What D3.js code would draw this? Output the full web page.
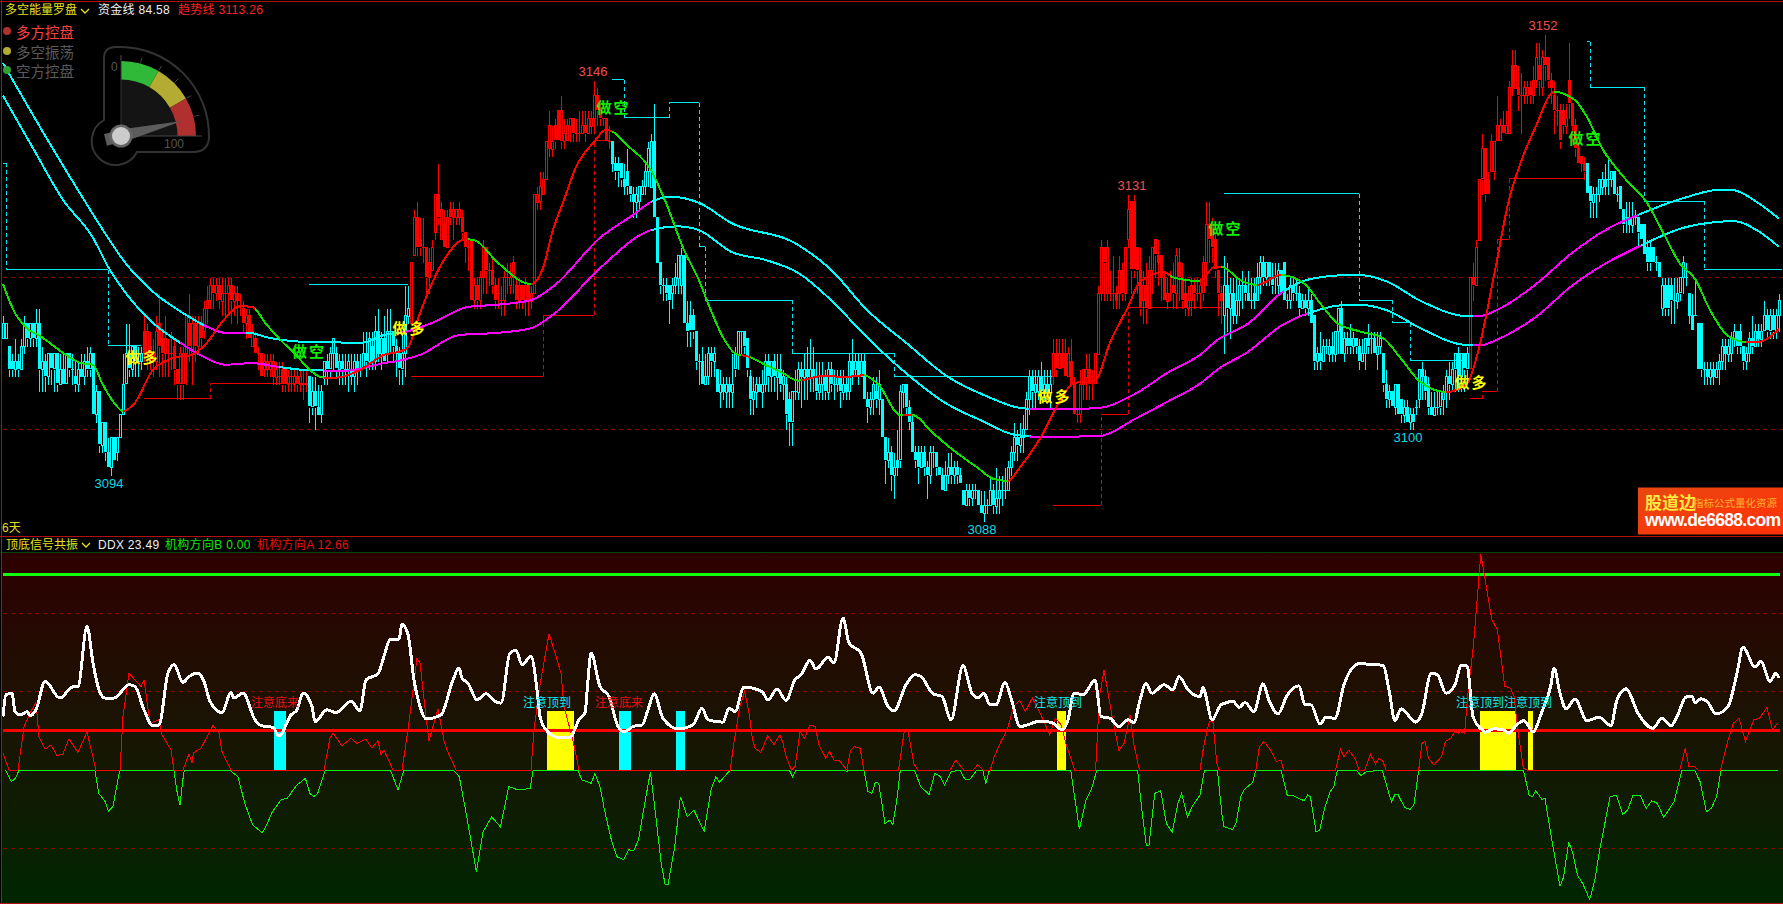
<!DOCTYPE html>
<html><head><meta charset="utf-8">
<script src="https://cdn.jsdelivr.net/npm/d3@7"></script>
<style>html,body{margin:0;padding:0;background:#000;overflow:hidden}svg{display:block}
text{font-family:"Liberation Sans","Noto Sans CJK SC",sans-serif}</style>
</head><body><div id="chart"></div>
<script>
// All price values are points above this base; each bar is [open, close, high, low].
const priceBase = 3000;
const cyanBars1 = [[112,114,115,112],[112,114,114,112],[111,108,111,107],[109,108,110,107],[108,109,112,107],[109,108,110,107],[108,111,112,108],[111,114,115,110],[114,112,114,111],[112,114,114,111],[114,112,114,111],[112,114,116,111],[114,108,116,105],[108,109,111,105],[109,107,110,105],[107,110,110,106],[110,108,110,106],[108,110,110,105],[110,106,110,105],[106,108,110,106],[108,106,110,106],[106,110,110,106],[110,108,110,107],[108,108,110,106],[107,106,109,105],[106,108,109,105],[108,107,110,107],[107,109,110,106],[109,108,111,107],[108,110,111,107],[110,102,110,102],[102,105,106,101],[105,98,105,97],[98,101,101,97],[101,97,101,96],[97,95,99,95],[95,99,99,94],[99,96,99,96],[97,99,99,96],[99,102,102,99],[102,106,110,102],[106,110,114,106],[110,108,114,107],[108,111,111,107],[111,109,111,107],[109,109,111,107],[109,110,111,108]];
const redBars1 = [[113,110,115,109],[110,113,114,108],[111,110,113,108],[110,109,112,107],[109,113,115,108],[114,111,118,107],[112,110,113,107],[110,112,115,107],[110,110,112,107],[110,110,113,108],[111,108,112,106],[108,106,108,104],[106,110,111,104],[106,110,111,104],[110,115,115,106],[114,111,118,109],[110,114,115,106],[114,111,115,109],[111,114,115,110],[114,112,115,111],[113,116,117,112],[116,117,119,114],[117,119,120,116],[119,118,120,116],[118,119,120,117],[119,117,120,116],[117,118,120,115],[118,118,120,115],[118,119,120,115],[119,117,120,114],[117,118,119,115],[118,117,119,114],[117,117,118,115],[116,114,117,113],[114,115,116,112],[115,112,116,112],[111,113,114,111],[112,110,113,110],[110,110,111,108],[110,107,110,107],[108,109,110,107],[108,109,110,107],[108,109,110,107],[107,109,110,106],[107,108,109,106],[107,107,109,106],[108,106,109,105],[108,106,108,105],[106,107,108,105],[107,107,108,105],[106,107,108,105],[107,106,108,105],[106,107,108,105],[106,106,108,104],[106,106,108,105]];
const cyanBars2 = [[107,103,107,101],[103,105,107,102],[105,103,107,100],[103,102,106,102],[102,105,106,101],[107,109,109,106],[109,108,110,106],[108,110,111,107],[110,112,112,108],[110,108,111,107],[108,109,110,106],[109,108,110,106],[108,108,110,106],[108,109,110,105],[108,107,110,106],[107,109,110,105],[109,108,110,106],[108,108,110,107],[108,110,113,108],[110,109,113,107],[109,112,113,108],[111,109,113,108],[109,113,115,108],[113,110,116,109],[110,112,113,108],[112,109,115,109],[110,113,116,109],[113,113,116,110],[113,111,113,109],[111,110,112,107],[110,108,111,106],[108,110,113,106],[110,115,119,107],[115,116,119,114]];
const redBars2 = [[114,122,122,114],[123,128,129,123],[128,124,130,123],[125,124,128,123],[124,124,128,122],[124,120,124,118],[120,122,124,118],[121,124,125,121],[126,131,131,125],[131,128,135,127],[125,129,130,125],[127,124,129,124],[124,128,129,124],[129,128,130,127],[128,129,130,125],[128,129,129,127],[128,129,130,127],[128,126,129,125],[126,124,126,122],[124,124,125,121],[125,117,125,117],[117,119,120,116],[119,117,120,116],[117,120,121,116],[120,124,125,118],[124,121,124,118],[121,121,122,119],[121,119,123,118],[119,117,120,116],[118,118,120,116],[117,117,119,115],[117,120,121,115],[120,120,122,118],[119,120,122,118],[120,122,123,118],[119,117,120,116],[117,119,120,116],[119,117,119,116],[117,119,120,115],[119,117,119,115],[117,118,119,116],[118,131,131,118],[130,131,132,129],[130,132,134,129],[131,133,134,131],[133,138,138,133],[137,140,142,136],[137,138,140,136],[140,138,141,137],[142,138,142,138],[138,142,144,137],[138,139,141,137],[138,140,141,138],[140,141,141,138],[141,139,141,138],[139,139,141,138],[139,139,142,138],[139,140,142,139],[140,139,142,138],[139,141,142,139],[140,141,142,139],[141,144,146,139],[144,142,145,140],[142,141,143,140],[141,141,141,140],[141,138,141,138],[138,138,140,137]];
const cyanBars3 = [[138,135,138,134],[135,134,136,133],[135,134,136,132],[135,133,135,132],[133,132,135,131],[134,132,137,131],[132,131,132,130],[131,130,132,128],[130,131,132,128],[130,132,132,129],[131,132,133,131],[132,134,135,131],[134,137,138,132],[132,138,139,132],[138,128,143,128],[128,122,128,122],[122,119,122,118],[119,119,120,117],[119,118,120,117],[119,117,119,114],[118,119,120,116],[119,120,122,118],[120,123,123,118],[119,123,124,118],[123,114,123,114],[114,113,117,111],[115,113,117,111],[115,113,116,112],[113,109,113,108],[109,109,110,106],[109,106,111,106],[106,107,110,106],[107,110,111,106],[110,109,111,107],[109,110,111,107],[108,105,108,105],[105,106,108,103],[106,105,107,104],[105,106,107,103],[106,105,107,103],[105,106,110,103],[108,110,111,107],[110,113,113,108],[113,113,113,110],[113,111,113,110],[112,108,112,107],[107,104,108,102],[104,105,107,102],[105,106,107,103],[106,105,107,105],[105,106,108,103],[106,109,110,105],[109,107,110,105],[107,109,109,105],[109,107,110,105],[107,108,110,104],[108,106,110,105],[106,107,108,104],[106,102,107,100],[104,101,105,98],[101,105,105,98],[105,105,108,104],[105,108,109,104],[108,107,109,103],[107,108,110,104],[108,107,111,104],[107,108,112,105],[108,107,111,105],[107,105,109,104],[105,106,109,104],[106,107,109,104],[107,105,108,104],[105,108,109,104],[108,106,109,105],[106,106,108,104],[106,107,108,105],[107,105,108,103],[105,106,108,104],[106,105,107,104],[105,109,110,104],[109,107,112,106],[108,109,110,107],[109,107,110,106],[107,109,110,107],[109,104,110,104],[104,103,105,101],[103,104,105,102],[104,106,107,102],[105,104,107,103],[104,106,108,102],[104,99,104,99],[99,96,99,93],[96,97,99,95],[97,94,98,92],[94,95,97,91],[96,95,100,94],[96,105,106,95],[105,106,106,103],[106,103,106,102],[103,101,104,100],[101,97,102,97],[97,96,98,95],[97,95,98,93],[95,97,98,95],[97,95,98,94],[95,94,96,91],[94,97,98,93],[97,97,98,95],[97,95,97,94],[95,94,95,94],[94,92,95,92],[92,94,96,92],[94,95,97,93],[95,94,97,93],[94,95,96,93],[95,94,96,93],[94,93,95,93],[92,90,92,90],[90,92,93,90],[92,91,93,90],[91,92,93,90],[92,92,93,91],[92,90,92,90],[90,89,92,89],[89,90,92,88],[90,90,91,89],[90,92,94,90],[92,90,93,89],[90,91,95,89],[91,92,94,89],[92,92,94,90],[92,92,95,91],[92,95,96,92],[95,97,98,94],[97,99,101,96],[99,98,100,96],[98,99,101,97],[99,100,102,97],[100,104,105,100],[104,107,108,102],[107,105,108,103],[105,106,108,103],[105,107,108,104],[107,105,109,104],[105,106,108,104],[106,105,108,104],[105,106,108,103]];
const redBars3 = [[107,110,112,106],[110,108,112,107],[108,110,112,108],[110,108,112,108],[110,107,112,107],[107,110,111,107],[109,106,112,106],[106,102,107,102],[102,102,103,101],[102,106,108,101],[106,108,108,104],[107,108,110,104],[108,106,110,104],[107,107,108,104],[106,110,110,106],[110,118,119,110],[118,124,125,117],[124,122,124,117],[118,124,125,117],[118,118,121,117],[118,118,123,116],[118,117,119,116],[118,121,123,116],[121,118,122,117],[118,124,124,117],[125,129,131,124],[130,121,130,118],[130,121,131,120],[124,121,124,118],[121,116,124,115],[117,119,121,114],[119,116,122,114],[116,121,123,116],[121,124,124,118],[125,123,125,120],[123,122,125,119],[123,120,123,117],[120,117,121,117],[117,118,120,116],[118,118,121,117],[119,118,122,116],[118,123,124,116],[122,120,124,117],[120,117,122,116],[118,116,120,115],[116,117,119,115],[117,119,120,115],[119,118,120,116],[118,118,120,117],[118,119,120,116],[118,122,123,117],[122,127,130,119],[127,125,130,122],[127,124,128,122],[125,121,126,120],[121,118,121,115],[118,117,119,114]];
const cyanBars4 = [[115,119,123,110],[119,116,122,113],[116,118,120,112],[118,115,120,114],[115,117,120,114],[117,119,120,115],[119,119,121,116],[119,118,120,117],[118,117,121,117],[117,117,120,116],[118,117,120,116],[117,120,122,117],[120,122,123,118],[122,120,123,119],[120,122,122,119],[122,120,122,119],[120,119,122,118],[120,120,122,118],[119,121,122,118],[121,118,121,118],[122,117,122,117],[117,117,118,116],[117,119,120,116],[119,118,120,117],[118,118,120,117],[118,116,119,115],[116,117,118,116],[117,116,118,115],[116,117,119,115],[117,114,118,114],[115,109,115,108],[109,110,111,108],[110,109,113,108],[109,111,112,109],[111,111,112,110],[110,111,112,109],[111,110,113,109],[110,113,113,109],[113,116,116,110],[116,110,117,110],[110,112,113,109],[112,111,113,110],[112,111,114,110],[111,112,113,110],[112,111,112,110],[111,109,112,108],[109,110,112,109],[110,112,112,108],[112,111,114,110],[112,112,113,110],[112,110,113,110],[110,111,113,108],[111,112,113,110],[110,106,110,105],[106,104,108,103],[104,105,106,103],[105,103,105,103],[103,106,106,102],[106,102,106,102],[104,102,104,101],[102,103,104,101],[103,101,104,101],[101,102,103,100],[102,101,103,100],[103,103,104,102],[104,108,108,103],[108,107,109,104],[107,105,108,104],[106,103,107,102],[103,102,105,102],[102,103,105,102],[103,103,105,102],[103,105,105,102],[104,105,106,102],[105,107,108,103],[107,106,109,104],[106,108,109,105],[108,110,110,105],[110,107,111,105],[107,110,110,105],[110,108,110,105],[108,110,111,106]];
const redBars4 = [[108,120,120,108],[120,119,122,117],[119,124,125,119],[125,133,133,125],[133,137,139,131],[137,131,137,130],[133,131,134,131],[134,138,139,134],[134,138,138,133],[138,140,144,138],[138,140,141,138],[140,139,142,139],[139,140,142,139],[139,145,146,139],[148,145,150,144],[145,148,150,145],[145,144,148,142],[144,144,147,139],[144,145,146,143],[144,145,146,143],[145,144,146,143],[144,146,148,143],[146,149,151,145],[148,146,151,144],[145,149,150,144],[149,148,152,146],[149,146,149,145],[146,145,147,143],[144,142,146,139],[142,142,144,140],[142,138,143,137],[142,140,143,139],[140,141,143,139],[146,143,151,141],[143,140,143,138],[140,137,141,136],[137,135,138,135],[136,135,136,134],[135,134,136,133]];
const cyanBars5 = [[135,131,135,131],[132,130,132,128],[130,131,132,128],[131,131,132,128],[131,133,133,130],[132,133,134,131],[133,132,135,131],[133,133,136,131],[133,134,134,132],[134,131,134,131],[131,131,132,130],[132,129,132,129],[129,127,129,126],[128,128,130,126],[128,127,130,126],[127,128,130,126],[128,128,129,127],[128,126,128,124],[127,125,127,125],[127,123,127,123],[124,122,125,121],[124,122,125,121],[124,122,124,122],[122,122,123,121],[122,120,122,120],[116,119,120,115],[119,116,120,115],[119,116,120,115],[119,117,120,114],[117,117,120,114],[117,118,120,116],[118,120,120,117],[120,122,123,118],[120,120,122,119],[118,115,118,114],[115,113,118,113],[115,115,120,115],[114,108,114,108],[114,108,114,107],[108,108,109,106],[108,107,109,106],[107,108,109,106],[108,107,109,106],[107,108,109,107],[108,109,110,106],[109,111,112,108],[111,110,112,108],[110,111,112,109],[110,112,113,109],[112,113,114,111],[113,111,113,110],[113,111,114,110],[111,109,111,108],[109,110,111,108],[110,112,113,109],[112,111,115,110],[111,113,114,111],[113,112,114,111],[112,113,114,111],[113,115,117,113],[115,113,116,112],[113,115,116,112],[115,113,116,112],[113,115,116,112],[115,117,118,113]];
const barRunStarts = [0,47,102,136,203,350,407,489,528];
const barRunData = [cyanBars1,redBars1,cyanBars2,redBars2,cyanBars3,redBars3,cyanBars4,redBars4,cyanBars5];
const bandUpper = [[0,148.2],[12,140],[27,130.2],[35,125.2],[40,122.3],[50,118.1],[60,115.3],[68,113.5],[74,112.7],[82,112.7],[88,112.1],[101,111.5],[120,111.4],[127,112.4],[134,112.8],[143,114],[155,116.1],[165,116.4],[176,117],[184,119],[199,125.2],[210,128.2],[216,129.9],[223,130.6],[232,129.8],[243,127.1],[264,124.5],[276,121],[288,115.7],[301,111.4],[315,106.9],[327,104.5],[342,102.7],[358,102.7],[365,102.8],[378,104.8],[388,107.4],[399,109.8],[405,111.8],[415,113.9],[426,117.9],[436,119.8],[449,120.3],[452,120.3],[461,119.5],[473,116.8],[488,114.9],[492,114.9],[498,115.7],[511,119.1],[523,123.2],[535,126.4],[545,128.2],[560,130.4],[572,131.5],[576,131.5],[585,129.8],[592,127.7]];
const bandLower = [[0,143.9],[10,137],[20,130.2],[30,125.2],[35,121.4],[41,117.9],[50,114],[59,111.4],[67,109.5],[74,108.5],[83,108.7],[92,108.2],[101,107.8],[114,107.7],[127,108.7],[133,109.1],[139,109.8],[152,112.4],[165,112.7],[176,113.3],[184,115.3],[199,121.2],[216,126.2],[225,126.7],[232,126.2],[243,123.3],[254,122.3],[265,120.6],[276,117],[288,112.1],[301,107.4],[314,103.5],[327,101],[337,99.3],[346,99],[365,99.1],[378,101.5],[388,103.6],[399,106],[405,107.9],[415,110.2],[426,113.6],[436,115.4],[449,116.4],[452,116.4],[461,115.7],[473,113.2],[488,111.1],[493,111.1],[498,111.8],[511,114.8],[523,118.9],[535,122],[545,124],[560,126.5],[572,127.3],[577,127.4],[585,126.1],[592,124]];
const upperMagentaRuns = [[67,81],[133,216],[342,427],[490,545]];
const lowerMagentaRuns = [[59,92],[107,216],[342,435],[490,546]];
const trendLine = [[0,119.1],[4,115.3],[8,113.3],[13,112.1],[21,109.8],[26,108.7],[30,108.5],[33,106.1],[37,103.5],[40,102.4],[44,103.5],[50,107.8],[58,109.5],[63,109.8],[68,111.4],[73,114.1],[79,116.2],[83,116.1],[88,113.7],[97,110],[107,106.8],[111,106.8],[119,107.8],[127,109.8],[132,110.2],[135,110.8],[139,115.3],[147,122.3],[154,125],[157,124.9],[165,121.9],[176,119.1],[180,121.2],[183,125.8],[187,130.2],[191,134.5],[197,137.8],[201,139.4],[203,139.2],[208,137.4],[216,134.1],[221,129.8],[227,123.6],[232,119.6],[235,116.6],[240,112.1],[244,110],[249,109.5],[254,108.5],[260,107.4],[265,106.4],[273,107],[281,106.9],[287,107.1],[292,105.8],[299,101.9],[303,101.9],[310,99.5],[316,97.5],[325,94.9],[330,93.5],[335,93.2],[339,95],[346,99],[352,103.5],[357,106.1],[364,106.4],[369,111.4],[375,116.1],[379,119.4],[387,120.7],[390,120],[399,119.5],[404,121.4],[406,121.4],[413,119.5],[418,119],[426,120.3],[434,119.1],[439,116.6],[445,113.9],[452,112.9],[460,112],[466,109.3],[472,106.4],[481,104.9],[488,106],[492,110.7],[497,120.2],[502,130.2],[506,135.2],[511,139.9],[517,144.4],[524,143.3],[528,141.1],[533,137],[540,133.3],[548,129.8],[554,125.4],[559,121.8],[564,119.8],[569,115.7],[575,112.3],[581,111.5],[585,111.5],[592,113.2]];
const trendRedRuns = [[40,84],[107,155],[176,203],[246,249],[266,287],[300,303],[335,389],[399,406],[418,426],[481,517],[581,592]];
// Stop-level steps: [first bar, last bar, price level]
const cyanSteps = [[0,1,135],[1,35,121],[35,46,111],[102,135,119],[203,207,146],[207,222,141],[222,232,143],[232,234,124],[234,263,117],[263,297,110],[297,350,107],[407,452,131],[452,463,117],[463,469,114],[469,488,109],[528,529,151],[529,547,145],[547,567,130],[567,593,121]];
const redSteps = [[47,69,104],[69,102,106],[136,180,107],[180,197,115],[197,202,138],[350,366,90],[366,375,102],[375,406,116],[489,493,104],[493,498,105],[498,502,125],[502,527,133]];
const priceGrid = [120,100];
const longSignalBars = [46.5,135.5,350.5,489.5];
const shortSignalBars = [102,203.5,407.5,527.5];
const longSignalPrices = [109.4,113.3,104.3,106.2];
const shortSignalPrices = [110.2,142.3,126.4,138.2];
const peakBars = [197,377,514,36,327,469];
const peakPrices = [146,131,152,94,88,100];
const peakLabels = ["3146","3131","3152","3094","3088","3100"];
const peakUp = [true,true,true,false,false,false];

const ddxPoints = [[0,27.3],[1,38.4],[3,39.2],[4,29.8],[6,28.1],[8,29.8],[9,27.8],[11,30.7],[14,45.2],[19,36.7],[23,42.3],[25,42.6],[28,73.3],[30,54.6],[32,40.9],[34,36.7],[37,36.7],[42,43.5],[44,42.6],[47,30.7],[50,22.5],[52,23],[55,49.4],[57,53.7],[60,44.7],[62,47.7],[65,49.4],[67,45.2],[69,35],[73,29.3],[76,39.6],[77,36.7],[80,39.2],[84,25.6],[86,22.7],[90,21.7],[92,17.4],[96,28.1],[98,30.7],[100,39.2],[103,32.4],[104,24.7],[108,30.7],[111,29.3],[116,35],[119,30.3],[121,46],[125,49.1],[127,58],[129,66.5],[132,66.8],[133,74.5],[135,69.1],[137,46],[139,32.4],[141,26.1],[146,28.1],[150,46],[152,52],[153,46.9],[155,44.3],[158,35.8],[161,38.9],[164,35],[166,34.1],[169,59.7],[171,61],[173,53.7],[176,58],[178,40.9],[179,27.3],[181,20.5],[185,16.7],[189,16.7],[192,25.6],[194,29.3],[195,46],[196,59.7],[199,42.6],[202,37.5],[205,22.2],[207,19.6],[210,22.2],[213,23],[215,30.7],[217,38.9],[220,26.4],[225,21],[230,23],[233,31.5],[235,25.6],[240,24.4],[242,31.5],[244,29.8],[247,42.3],[253,40],[255,35.8],[258,41.3],[261,35.5],[264,46],[266,48.6],[269,55.9],[271,51.5],[275,57.5],[277,54.6],[280,77.6],[282,64.8],[286,59.7],[290,39.2],[292,42.3],[295,32.4],[297,30.2],[301,43.5],[304,48.6],[306,47.7],[310,38.9],[313,37.5],[316,25.6],[320,53.2],[323,39.2],[325,36.7],[327,39.2],[329,33.2],[331,33.2],[334,44.7],[336,36.7],[339,22.2],[346,25],[350,23.9],[353,20.5],[355,25.6],[357,39.2],[360,38.4],[364,45.7],[366,27.3],[369,26.4],[372,22.2],[375,25.6],[377,24.2],[379,35.8],[381,44],[383,39.2],[387,43.5],[390,40.9],[392,47.7],[395,40.9],[399,37.5],[400,42.3],[401,37.5],[403,25.6],[406,33.2],[410,35],[412,31.9],[414,34.4],[417,29.8],[420,44],[422,35.5],[425,28.6],[428,38],[432,43],[434,33.2],[436,33.2],[439,23.5],[441,26.9],[444,26.4],[447,43.5],[452,54.2],[460,53.4],[462,40.9],[464,25.2],[466,31.2],[471,24.4],[473,29],[476,49.1],[478,48.9],[481,39.2],[484,43.5],[486,53.2],[488,53.2],[490,27.3],[493,20.5],[494,19.3],[497,21],[500,20.5],[502,18.8],[504,22.2],[507,25.2],[510,19.6],[513,29.8],[516,43.5],[517,52],[519,39.2],[521,31.2],[524,36.1],[528,25.2],[532,26.9],[536,22.7],[538,35.8],[541,41.4],[545,29],[550,21.3],[553,26.4],[556,22.5],[558,27.3],[561,37.2],[563,37.5],[564,34.4],[566,36.3],[568,35],[571,28.6],[575,32.4],[578,49.4],[580,62.7],[584,52.5],[586,55.4],[589,45.2],[591,49.4],[592,46.9]];
const instA = [[0,8.5],[2,0],[5,0],[7,22],[9,29],[11,34.4],[12,17],[14,10.6],[16,12.8],[18,7.3],[20,8.2],[22,15.9],[25,9],[28,19.4],[31,0],[39,0],[40,27.3],[42,49.4],[44,46],[46,42.6],[47,46],[49,23.9],[52,25.6],[53,18],[56,10.2],[57,0],[60,0],[62,8.2],[63,3.4],[63.5,8.7],[66,11.1],[70,22.7],[72,18.8],[73,9.4],[76,0],[107,0],[109,16.2],[110,18.8],[113,12.3],[116,16.2],[118,13.6],[121,15.7],[123,11.1],[125,15],[126,7.7],[127,10.2],[130,0],[133,0],[135,20.5],[138,57.1],[139,54.6],[141,27.3],[142,15],[145,31.2],[147,15],[148,10.2],[151,0],[176,0],[177,20.5],[179,43.5],[182,69.4],[184,59.7],[186,49.4],[187,32.4],[190,15],[192,0],[242.4,0],[242.7,3.4],[243.6,13.6],[245.6,32.4],[247.2,40],[248.7,29],[249.8,16],[250.7,11],[252.6,9],[254.9,17.4],[257,13],[259,18],[260,13.6],[261,7],[262.8,0],[264,1.7],[265.7,19.6],[267.2,16.2],[269,23],[270.7,22.2],[272,12.8],[274.3,6],[275.5,9.4],[277,5],[278.7,5],[281.3,0],[282.5,10],[283.8,11.9],[285.7,11],[287,0],[298.5,0],[300.4,19.6],[301.7,19.6],[303.6,3.4],[304.9,0],[315.7,0],[317.6,5],[320.2,0],[323.4,0],[324.9,2.6],[326.6,0],[329.1,0],[330.4,6.8],[332.9,15.3],[334.8,20.5],[336.8,32.4],[338.9,35.5],[340.8,29.8],[343.1,36.7],[345.7,29],[348.9,17.9],[350.8,26.4],[352.7,23],[354.6,11.9],[357.2,0],[364.2,0],[365.5,37.5],[367,51],[369.9,25.6],[372,10],[373.7,13.6],[375.7,28.1],[376.9,13.6],[378.8,0],[399,0],[400.2,11.9],[402.1,24.7],[403.3,24.7],[404.6,3.4],[405.4,0],[417.6,0],[418.8,11.9],[420.3,14.5],[422.5,10.2],[424.4,4.3],[426,5.1],[426.9,0],[444.2,0],[445.8,10.6],[447,6.8],[448.6,10.2],[450.8,5.5],[452,0],[453.9,0],[455.8,8],[457.5,3],[458.7,6],[460,4.3],[461,0],[471.9,0],[473,13.6],[474,14.5],[475.2,6],[477,2.6],[479.5,6.8],[480.8,14.5],[482.6,16.2],[483.9,19.6],[485.1,18.8],[485.7,19.6],[487.2,18.8],[488.2,37.5],[490.1,63],[492.6,110],[494.4,93.8],[496.3,76.7],[498.1,71.6],[500.6,42.6],[502.5,41.8],[503.7,37.5],[504.9,20.5],[506.8,1],[508,0],[558.9,0],[560.7,11],[562,1.7],[563.8,1.7],[565,0],[572.5,0],[574.7,13.6],[576.8,23.9],[578.7,26.4],[580.8,14.5],[583.6,25.6],[585.5,26.4],[588,31.9],[589.8,20.5],[591.7,24.2]];
const instB = [[0.9,0],[2.8,-6],[4.1,-4.3],[5.4,0],[30.6,0],[31.9,-11.9],[34.1,-16.2],[35.1,-21],[36.6,-18.8],[37.9,-8.5],[38.9,0],[57,0],[57.9,-10.2],[59,-18],[60.2,-1.7],[60.6,0],[75.5,0],[78.3,-3.4],[80.6,-17],[83.2,-28],[86.4,-32],[87.6,-29],[89.8,-21.3],[92.8,-15],[94.7,-14.5],[97.9,-7.7],[100.8,-4.3],[102.3,-12],[103.6,-13.6],[104.9,-12],[107.4,0],[129.1,0],[131.7,-10.2],[133.6,0],[150.1,0],[152.1,-3.4],[154.6,-23.9],[157.8,-52],[160,-31.7],[162.9,-23.9],[165.8,-29],[168.6,-8.5],[171.8,-10.2],[175.7,-9.4],[176.7,0],[191.6,0],[192.9,-5],[196.1,-6.8],[197.3,-1.7],[199,-8.5],[200.5,-20.5],[202.8,-35.8],[204.7,-44.3],[206.9,-45.7],[208.6,-40.6],[210.2,-41.3],[211.8,-35.8],[214.3,-13.6],[215.8,-0.9],[217.5,-22.2],[219.4,-47.7],[220.7,-58.3],[221.7,-58.3],[223.9,-39.2],[225.8,-13.6],[228.1,-23.9],[230.3,-20.5],[233.7,-31.2],[236,-10.2],[237.6,-3.4],[238.8,-6.3],[242.4,0],[262.1,0],[263.2,-3.4],[264.3,0],[280.6,0],[281.3,-0.9],[281.9,0],[287,0],[288.3,-11],[289.6,-12],[290.8,-6.3],[291.9,-6.8],[294,-27.3],[295.6,-25.6],[296.6,-28],[298.1,-13.6],[299.1,0],[303.8,0],[305.9,-8.5],[308.7,-12.5],[310.6,-1.7],[312.5,-3.4],[313.8,-7.7],[316.1,-0.9],[318.9,0],[320.8,-5.1],[322.1,-5.1],[324.6,0],[326.6,0],[327.6,-7.2],[328.8,0],[355.9,0],[357.2,-13.6],[358.8,-30.2],[361,-15.3],[362.9,-9.4],[364.6,0],[378.2,0],[379.5,-18.8],[381.1,-38.4],[382,-38.4],[383.9,-11.9],[385.9,-10.6],[387.8,-27.3],[389.7,-31.7],[391.6,-17.2],[392.9,-11.9],[394.8,-23.9],[396.7,-17.9],[399,-12.8],[400.5,0],[404.8,0],[406.4,-23.9],[407,-29],[409.9,-30.3],[411,-27.3],[412.6,-13.6],[413.9,-9.7],[416.6,-6.3],[417.6,0],[426,0],[428.1,-13.1],[430,-13.1],[433.7,-15.7],[434.9,-12.8],[435.8,-13.6],[437.7,-31.7],[438.9,-30.7],[440.5,-19.6],[442.4,-11],[443.6,-8.5],[444.8,0],[451,0],[452.7,-2.9],[454.4,-0.9],[459.7,0],[462.8,-16.2],[464,-12.5],[465,-12.5],[467.2,-19.1],[469,-20.1],[470.3,-17.9],[471.9,0],[506.8,0],[508.7,-12.8],[509.9,-13.6],[510.9,-10.6],[513,-15],[514,-14.5],[516.1,-34.1],[519,-59.3],[520.2,-54.6],[521.9,-36.7],[523.3,-42.6],[524.8,-53.7],[526.6,-58],[528.9,-66.1],[530.6,-56.3],[532.2,-40.9],[535.7,-13.6],[537.8,-12.8],[539.9,-22.7],[541.5,-20.5],[543.4,-12.8],[545.8,-13.1],[547.7,-19.6],[549.6,-15.7],[551.4,-17],[553.6,-24.2],[557,-16.2],[559.7,0],[563.8,0],[565.7,-6],[567.8,-21.3],[569.4,-19.6],[571.2,-13.6],[572.7,0],[591.7,0]];
const bottomAlerts = [[90.3,94.3],[205.3,209.3],[224.3,227.3]];
const topAlerts = [[181.3,190.3],[351.3,354.3],[492.3,504.3],[508.3,510]];
const alertHeight = 30;
const bottomAlertLabels = [[90.7,"注意底来"],[205.3,"注意底来"]];
const topAlertLabels = [[181.3,"注意顶到"],[351.7,"注意顶到"],[492.3,"注意顶到"],[508.3,"注意顶到"]];
const oscGrid = [80,40,-40];
const oscLevelHigh = 100, oscLevelLow = 20;
const gaugeScore = 84.58;
const gaugeZones = [[0,100/3,"#30b838"],[100/3,200/3,"#b4ac32"],[200/3,100,"#b03030"]];
const gaugeTicks = [0,100/6,200/6,50,400/6,500/6];
const legendItems = [["多方控盘","#b03030","#ff4040"],["多空振荡","#b4ac32","#5a5a5a"],["空方控盘","#32a032","#5a5a5a"]];

const W=1783,H=904;
const svg=d3.select("#chart").append("svg").attr("width",W).attr("height",H).style("background","#000");
const defs=svg.append("defs");
const x=d3.scaleLinear().domain([0,592]).range([3,1779]);
const yP=d3.scaleLinear().domain([100,120]).range([429.3,277.3]);
const yV=d3.scaleLinear().domain([0,100]).range([770,574]);
const crisp="crispEdges";

const gr=defs.append("linearGradient").attr("id","oscBg").attr("x1",0).attr("y1",0).attr("x2",0).attr("y2",1);
[[0,"#2e0000"],[0.5,"#1a1404"],[1,"#002600"]].forEach(s=>gr.append("stop").attr("offset",s[0]).attr("stop-color",s[1]));
const wm=defs.append("linearGradient").attr("id","wmBg").attr("x1",0).attr("y1",0).attr("x2",1).attr("y2",1);
[[0,"#e8480f"],[1,"#ff3008"]].forEach(s=>wm.append("stop").attr("offset",s[0]).attr("stop-color",s[1]));

function runClip(id,runs){
  const c=defs.append("clipPath").attr("id",id);
  runs.forEach(r=>c.append("rect").attr("x",x(r[0])).attr("y",0).attr("width",x(r[1])-x(r[0])).attr("height",536));
}
runClip("cUp",upperMagentaRuns);runClip("cLow",lowerMagentaRuns);runClip("cTrend",trendRedRuns);

// Price panel
const p1=svg.append("g");
p1.selectAll(".pg").data(priceGrid).join("line").attr("x1",3).attr("x2",W).attr("y1",d=>yP(d)).attr("y2",d=>yP(d))
  .attr("stroke","#8c0000").attr("stroke-dasharray","4 4").attr("shape-rendering",crisp);

function drawSteps(data,col){
  const g=p1.append("g").attr("shape-rendering",crisp);
  g.selectAll(".h").data(data).join("line").attr("x1",d=>x(d[0])).attr("x2",d=>x(d[1])).attr("y1",d=>yP(d[2])).attr("y2",d=>yP(d[2])).attr("stroke",col);
  const links=data.slice(1).map((d,i)=>[data[i],d]).filter(a=>a[0][1]===a[1][0]);
  g.selectAll(".v").data(links).join("line").attr("x1",a=>x(a[1][0])).attr("x2",a=>x(a[1][0])).attr("y1",a=>yP(a[0][2])).attr("y2",a=>yP(a[1][2])).attr("stroke",col).attr("stroke-dasharray","4 3");
}
drawSteps(cyanSteps,"#00e8f0");drawSteps(redSteps,"#e80000");

barRunData.forEach((bars,r)=>{
  const col=r%2?"#ff0000":"#00ffff",s=barRunStarts[r];
  const g=p1.append("g").attr("shape-rendering",crisp);
  g.selectAll("path").data(bars).join("path").attr("stroke",col).attr("fill","none").attr("d",(d,i)=>{
    const cx=Math.round(x(s+i))+.5,t=Math.round(yP(Math.max(d[0],d[1])))+.5,b=Math.round(yP(Math.min(d[0],d[1])))+.5;
    const hi=Math.round(yP(Math.max(d[2],d[0],d[1])))+.5,lo=Math.round(yP(Math.min(d[3],d[0],d[1])))+.5;
    return `M${cx},${hi}V${t}M${cx},${b}V${lo}`;
  });
  g.selectAll("rect").data(bars).join("rect")
    .attr("x",(d,i)=>Math.round(x(s+i))+(d[1]>d[0]?-.5:-1))
    .attr("width",d=>d[1]>d[0]?2:3)
    .attr("y",d=>Math.round(yP(Math.max(d[0],d[1])))+(d[1]>d[0]?.5:0))
    .attr("height",d=>Math.max(1,Math.abs(yP(d[0])-yP(d[1]))))
    .attr("fill",d=>d[1]>d[0]?"none":col).attr("stroke",d=>d[1]>d[0]?col:"none");
});

const priceLine=d3.line().x(d=>x(d[0])).y(d=>yP(d[1])).curve(d3.curveMonotoneX);
function twoTone(data,base,alt,clip,w){
  p1.append("path").attr("d",priceLine(data)).attr("fill","none").attr("stroke",base).attr("stroke-width",w).attr("shape-rendering",crisp);
  p1.append("path").attr("d",priceLine(data)).attr("fill","none").attr("stroke",alt).attr("stroke-width",w).attr("clip-path",`url(#${clip})`).attr("shape-rendering",crisp);
}
twoTone(bandUpper,"#00ffff","#ff00ff","cUp",2);
twoTone(bandLower,"#00ffff","#ff00ff","cLow",2);
twoTone(trendLine,"#10e000","#ff0000","cTrend",2);

function signals(bars,prices,txt,col){
  p1.selectAll(null).data(bars).join("text").attr("x",d=>x(d)).attr("y",(d,i)=>yP(prices[i]))
   .attr("dy","0.36em").attr("text-anchor","middle").attr("font-size",15).attr("font-weight","bold").attr("letter-spacing",2)
   .attr("fill",col).text(txt);
}
signals(longSignalBars,longSignalPrices,"做多","#ffff00");
signals(shortSignalBars,shortSignalPrices,"做空","#10f000");

p1.selectAll(null).data(peakBars).join("text").attr("x",(d,i)=>x(d)-(i<1?1:2)).attr("y",(d,i)=>yP(peakPrices[i])+(peakUp[i]?-4:13))
  .attr("text-anchor","middle").attr("font-size",13).attr("fill",(d,i)=>peakUp[i]?"#f05050":"#10d8e0").text((d,i)=>peakLabels[i]);
p1.append("text").attr("x",2).attr("y",532).attr("font-size",12).attr("fill","#e8d820").text("6天");

// Header
function txt(g,xp,yp,s,col,size){return g.append("text").attr("x",xp).attr("y",yp).attr("font-size",size||12).attr("fill",col).text(s);}
txt(svg,5,14,"多空能量罗盘","#e8e020");
txt(svg,98,14,"资金线 84.58","#f0f0f0").attr("letter-spacing",.3);
txt(svg,178,14,"趋势线 3113.26","#ff2020").attr("letter-spacing",.3);
svg.append("path").attr("d","M81,9l4,4l4,-4").attr("stroke","#e8e020").attr("fill","none").attr("stroke-width",1.3);
legendItems.forEach((d,i)=>{
  const cy=[31,51,70][i];
  svg.append("circle").attr("cx",7).attr("cy",cy).attr("r",4).attr("fill",d[1]);
  txt(svg,16,cy+7,d[0],d[2],14.5);
});

// Gauge
const gg=svg.append("g");
gg.append("path").attr("d","M104,120L104,58Q104,47 116,47L121,47A89,89 0 0 1 209,136Q209,152 193,152L137,152A24,24 0 1 1 104,120Z")
  .attr("fill","#000").attr("stroke","#333").attr("stroke-width",2);
const ga=gg.append("g").attr("transform","translate(121,136)");
const ang=d3.scaleLinear().domain([0,100]).range([0,Math.PI/2]);
ga.append("path").attr("d",d3.arc()({innerRadius:0,outerRadius:57,startAngle:0,endAngle:Math.PI/2})).attr("fill","#141414");
ga.selectAll(".z").data(gaugeZones).join("path").attr("fill",d=>d[2])
  .attr("d",d=>d3.arc()({innerRadius:56.5,outerRadius:75,startAngle:ang(d[0]),endAngle:ang(d[1])}));
ga.selectAll(".t").data(gaugeTicks).join("line").attr("stroke","#444")
  .attr("x1",d=>Math.sin(ang(d))*76).attr("y1",d=>-Math.cos(ang(d))*76).attr("x2",d=>Math.sin(ang(d))*81).attr("y2",d=>-Math.cos(ang(d))*81);
ga.append("line").attr("x1",0).attr("y1",0).attr("x2",0).attr("y2",-80).attr("stroke","#333");
ga.append("line").attr("x1",0).attr("y1",0).attr("x2",81).attr("y2",0).attr("stroke","#444");
ga.append("polygon").attr("points","0,-63 5.5,-10 6,16 -6,16 -5.5,-10").attr("fill","#5c5c5c").attr("transform",`rotate(${gaugeScore*0.9})`);
ga.append("circle").attr("r",11.5).attr("fill","#666");
ga.append("circle").attr("r",9).attr("fill","#ccc");
txt(gg,111,71,"0","#555",12);
txt(gg,164,148,"100","#555",12);

// Watermark
svg.append("rect").attr("x",1638).attr("y",487.5).attr("width",145).attr("height",47).attr("fill","url(#wmBg)");
svg.append("text").attr("x",1645).attr("y",509).attr("font-size",17).attr("font-weight","bold").attr("fill","#ffe840").text("股道边");
svg.append("text").attr("x",1693).attr("y",507).attr("font-size",10.5).attr("fill","#ffb030").text("指标公式量化资源");
svg.append("text").attr("x",1645).attr("y",526).attr("font-size",17.5).attr("font-weight","bold").attr("font-family","DejaVu Sans").attr("fill","#fff").attr("textLength",136).text("www.de6688.com");

// Oscillator panel
svg.append("rect").attr("x",0).attr("y",537).attr("width",W).attr("height",15).attr("fill","#000");
svg.append("rect").attr("x",2).attr("y",552).attr("width",W-2).attr("height",351).attr("fill","url(#oscBg)");
svg.append("line").attr("x1",2).attr("x2",W).attr("y1",552.5).attr("y2",552.5).attr("stroke","#004800").attr("shape-rendering",crisp);
txt(svg,6,549,"顶底信号共振","#e8e020");
svg.append("path").attr("d","M82,543l4,4l4,-4").attr("stroke","#e8e020").attr("fill","none").attr("stroke-width",1.3);
txt(svg,98,549,"DDX 23.49","#f0f0f0").attr("letter-spacing",.3);
txt(svg,165,549,"机构方向B 0.00","#10e810").attr("letter-spacing",.3);
txt(svg,257,549,"机构方向A 12.66","#e81010").attr("letter-spacing",.3);

const p2=svg.append("g");
p2.selectAll(".og").data(oscGrid).join("line").attr("x1",3).attr("x2",W).attr("y1",d=>yV(d)).attr("y2",d=>yV(d))
  .attr("stroke","#8c0000").attr("stroke-dasharray","4 4").attr("shape-rendering",crisp);
function alerts(data,col){
  p2.selectAll(null).data(data).join("rect").attr("x",d=>x(d[0])).attr("width",d=>x(d[1])-x(d[0]))
    .attr("y",yV(alertHeight)).attr("height",yV(0)-yV(alertHeight)).attr("fill",col).attr("shape-rendering",crisp);
}
alerts(bottomAlerts,"#00ffff");alerts(topAlerts,"#ffff00");
p2.append("line").attr("x1",3).attr("x2",1780).attr("y1",yV(oscLevelHigh)).attr("y2",yV(oscLevelHigh)).attr("stroke","#10ff10").attr("stroke-width",3).attr("shape-rendering",crisp);
p2.append("line").attr("x1",3).attr("x2",1780).attr("y1",yV(oscLevelLow)).attr("y2",yV(oscLevelLow)).attr("stroke","#ff0000").attr("stroke-width",3).attr("shape-rendering",crisp);
const oscLine=d3.line().x(d=>x(d[0])).y(d=>yV(d[1]));
const ddxLine=d3.line().x(d=>x(d[0])).y(d=>yV(d[1])).curve(d3.curveMonotoneX);
p2.append("path").attr("d",oscLine(instB)).attr("fill","none").attr("stroke","#10f010").attr("shape-rendering",crisp);
p2.append("path").attr("d",oscLine(instA)).attr("fill","none").attr("stroke","#ff0000").attr("shape-rendering",crisp);
p2.append("path").attr("d",ddxLine(ddxPoints)).attr("fill","none").attr("stroke","#ffffff").attr("stroke-width",3).attr("shape-rendering",crisp);
function alertText(data,col){
  p2.selectAll(null).data(data).join("text").attr("x",d=>x(d[0])).attr("y",yV(alertHeight)-4).attr("text-anchor","middle")
    .attr("font-size",12).attr("fill",col).text(d=>d[1]);
}
alertText(bottomAlertLabels,"#e81010");alertText(topAlertLabels,"#10e8f0");

// Frame
const frame=svg.append("g").attr("stroke","#b01010").attr("shape-rendering",crisp);
[[0,1.5,W,1.5],[1.5,0,1.5,H],[0,536.5,W,536.5],[0,903.5,W,903.5]].forEach(l=>frame.append("line").attr("x1",l[0]).attr("y1",l[1]).attr("x2",l[2]).attr("y2",l[3]));
</script></body></html>
